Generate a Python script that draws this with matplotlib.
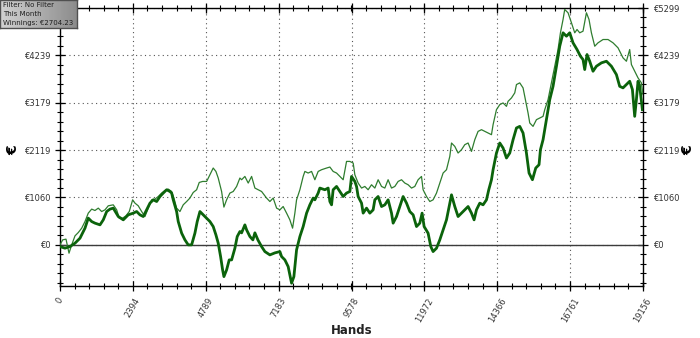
import matplotlib
matplotlib.use('Agg')
import matplotlib.pyplot as plt
from matplotlib.ticker import FixedLocator, AutoMinorLocator
import numpy as np

# Thick line (main winnings curve)
hands_thick = [0, 164, 328, 493, 657, 821, 929, 1041, 1149, 1314, 1422, 1534, 1642, 1750,
               1915, 2079, 2243, 2407, 2519, 2627, 2736, 2847, 2956, 3064, 3176, 3284, 3392,
               3504, 3612, 3668, 3721, 3832, 3885, 3997, 4105, 4213, 4325, 4433, 4509, 4598,
               4706, 4818, 4926, 5034, 5123, 5199, 5277, 5343, 5386, 5474, 5560, 5639, 5747,
               5823, 5911, 5967, 6075, 6131, 6240, 6338, 6404, 6502, 6624, 6732, 6896, 7061,
               7225, 7281, 7389, 7497, 7609, 7685, 7773, 7882, 7990, 8102, 8210, 8318, 8374,
               8483, 8538, 8703, 8811, 8867, 8923, 8975, 9087, 9195, 9304, 9415, 9524, 9579,
               9688, 9744, 9796, 9908, 9961, 10072, 10180, 10289, 10345, 10453, 10565, 10673,
               10781, 10893, 10946, 11057, 11166, 11274, 11386, 11494, 11603, 11714, 11822,
               11898, 11964, 12095, 12184, 12259, 12371, 12479, 12588, 12699, 12808, 12864,
               12972, 13080, 13192, 13300, 13409, 13520, 13606, 13684, 13793, 13901, 14013,
               14088, 14177, 14230, 14341, 14450, 14558, 14670, 14778, 14887, 14998, 15106,
               15215, 15326, 15412, 15523, 15632, 15740, 15786, 15872, 15983, 16092, 16200,
               16312, 16420, 16529, 16640, 16748, 16857, 16988, 17100, 17185, 17241, 17317,
               17405, 17514, 17625, 17790, 17954, 18118, 18282, 18390, 18499, 18611, 18719,
               18808, 18883, 18939, 18992, 19048, 19136]
won_thick = [-38, -74, -38, 38, 150, 374, 598, 522, 486, 448, 560, 746, 800, 822,
             634, 560, 672, 710, 746, 672, 634, 784, 934, 1008, 970, 1082, 1159,
             1233, 1194, 1159, 1008, 746, 522, 262, 112, 0, 0, 262, 522, 746,
             672, 598, 522, 410, 224, 38, -262, -560, -710, -560, -336, -336, -74,
             186, 298, 269, 448, 336, 186, 112, 269, 112, -38, -150, -224, -179,
             -150, -262, -336, -486, -858, -710, -112, 186, 410, 710, 896, 1047, 1008,
             1159, 1271, 1233, 1271, 970, 896, 1233, 1307, 1194, 1082, 1159, 1194, 1531,
             1419, 1307, 1082, 934, 710, 822, 710, 784, 1008, 1082, 858, 896,
             1008, 710, 486, 634, 858, 1082, 934, 746, 672, 410, 486,
             710, 410, 262, -38, -150, -74, 112, 336, 560, 934, 1120,
             858, 634, 710, 784, 858, 710, 560, 784, 934, 896, 1008,
             1233, 1457, 1681, 2055, 2279, 2167, 1943, 2055, 2353, 2615, 2651,
             2503, 2055, 1607, 1457, 1719, 1793, 2129, 2353, 2801, 3249, 3547,
             3996, 4444, 4744, 4668, 4744, 4520, 4370, 4220, 4146, 3922, 4258,
             4108, 3884, 3996, 4072, 4108, 3996, 3810, 3547, 3512, 3586, 3660,
             3474, 2875, 3249, 3660, 3547, 3025]

# Thin line
hands_thin = [0, 89, 197, 296, 384, 493, 601, 713, 821, 929, 1041, 1149, 1258, 1369, 1478,
              1586, 1750, 1862, 1947, 2059, 2167, 2276, 2387, 2463, 2571, 2683, 2791, 2900,
              3011, 3120, 3228, 3340, 3448, 3557, 3668, 3744, 3832, 3941, 4049, 4161, 4269,
              4377, 4489, 4575, 4686, 4818, 4926, 5034, 5123, 5199, 5310, 5386, 5474, 5583,
              5691, 5803, 5911, 5967, 6075, 6184, 6296, 6404, 6512, 6624, 6788, 6896, 7005,
              7117, 7225, 7333, 7445, 7553, 7642, 7717, 7773, 7882, 7990, 8046, 8154, 8266,
              8374, 8483, 8594, 8759, 8867, 8975, 9087, 9195, 9304, 9415, 9524, 9633, 9688,
              9796, 9908, 10016, 10124, 10236, 10345, 10453, 10565, 10673, 10781, 10893,
              11001, 11110, 11222, 11330, 11438, 11550, 11658, 11767, 11878, 11931, 12043,
              12151, 12259, 12371, 12479, 12588, 12699, 12808, 12864, 12972, 13080, 13192,
              13300, 13409, 13520, 13629, 13737, 13849, 13957, 14065, 14177, 14230, 14341,
              14450, 14558, 14670, 14722, 14834, 14942, 14998, 15106, 15215, 15271, 15379,
              15435, 15543, 15655, 15763, 15872, 15928, 16036, 16148, 16256, 16364, 16443,
              16529, 16584, 16693, 16805, 16913, 16988, 17077, 17185, 17297, 17382, 17461,
              17570, 17678, 17843, 18007, 18171, 18335, 18499, 18611, 18719, 18775, 18883,
              18992, 19103, 19156]
won_thin = [0, 112, 128, -186, 0, 202, 276, 374, 522, 710, 800, 769, 822, 746, 784,
            874, 896, 784, 598, 598, 650, 746, 1008, 934, 874, 746, 634, 822,
            1008, 1024, 1082, 1159, 1217, 1248, 1194, 1047, 822, 746, 896, 970, 1047,
            1172, 1233, 1396, 1419, 1419, 1569, 1719, 1643, 1495, 1194, 845, 1008, 1159,
            1194, 1307, 1495, 1457, 1531, 1383, 1531, 1271, 1233, 1194, 1047, 970, 1047,
            822, 784, 858, 710, 560, 374, 710, 1008, 1233, 1531, 1643, 1607, 1643,
            1457, 1643, 1681, 1719, 1741, 1643, 1607, 1531, 1457, 1867, 1867, 1831, 1569,
            1383, 1271, 1307, 1233, 1345, 1271, 1457, 1307, 1271, 1457, 1271,
            1307, 1419, 1457, 1383, 1345, 1271, 1307, 1457, 1531, 1233, 1082,
            970, 1008, 1159, 1383, 1607, 1681, 1979, 2279, 2203, 2055, 2129,
            2241, 2279, 2091, 2353, 2539, 2577, 2539, 2503, 2465, 2689, 3025,
            3137, 3175, 3099, 3211, 3287, 3400, 3586, 3624, 3512, 3323, 2951,
            2727, 2651, 2801, 2839, 2875, 3025, 3249, 3624, 3996, 4370, 4744,
            5042, 5266, 5192, 4968, 4744, 4818, 4744, 4780, 5192, 5042, 4744,
            4444, 4520, 4594, 4594, 4520, 4408, 4184, 4108, 4370, 4034, 3884,
            3736, 3624, 3362]

x_ticks = [0, 2394, 4789, 7183, 9578, 11972, 14366, 16761, 19156]
y_ticks = [0, 1060, 2119, 3179, 4239, 5299]
y_labels = ['€' + str(v) for v in y_ticks]

fig = plt.figure(figsize=(7.0, 3.38), dpi=100)
ax = fig.add_axes([60 / 700, 1 - 286 / 338, 583 / 700, 278 / 338])

ax.axhline(0, color='#3c3c3c', lw=1.0, zorder=2)
ax.plot(hands_thin, won_thin, color='#2f7d2f', lw=0.9, zorder=3)
ax.plot(hands_thick, won_thick, color='#0b630b', lw=2.0, zorder=4)

ax.set_xlim(0, 19156)
ax.set_ylim(-920, 5299)
ax.xaxis.set_major_locator(FixedLocator(x_ticks))
ax.yaxis.set_major_locator(FixedLocator(y_ticks))
ax.xaxis.set_minor_locator(AutoMinorLocator(5))
ax.yaxis.set_minor_locator(AutoMinorLocator(5))
ax.set_xticklabels([str(v) for v in x_ticks])
ax.set_yticklabels(y_labels)

ax.grid(True, which='major', linestyle=(0, (1, 3)), color='#555555', lw=0.8, zorder=1)
ax.tick_params(which='both', direction='inout', top=True, right=True,
               labelright=True, labelsize=6, labelcolor='#333333')
ax.tick_params(which='major', length=7, width=0.9)
ax.tick_params(which='minor', length=4, width=0.8)
ax.tick_params(axis='x', pad=4)
for lab in ax.get_xticklabels():
    lab.set_rotation(60)
    lab.set_ha('center')
for s in ax.spines.values():
    s.set_linewidth(1.0)
# the top-left label sits under the info box in the original
ax.yaxis.get_major_ticks()[-1].label1.set_visible(False)

fig.text(352 / 700, 1 - 330 / 338, 'Hands', fontsize=8.5, fontweight='bold',
         color='#222222', ha='center', va='center')
fig.text(13 / 700, 1 - 150 / 338, '€', fontsize=10, fontweight='bold', rotation=90,
         ha='center', va='center')
fig.text(688 / 700, 1 - 150 / 338, '€', fontsize=10, fontweight='bold', rotation=90,
         ha='center', va='center')

# Info box in the top-left corner
box = fig.add_axes([0, 1 - 28 / 338, 77 / 700, 28 / 338], zorder=10)
grad = np.linspace(0.82, 0.55, 64).reshape(1, -1)
box.imshow(grad, cmap='gray', vmin=0, vmax=1, aspect='auto', extent=[0, 1, 0, 1])
box.set_xlim(0, 1)
box.set_ylim(0, 1)
box.set_xticks([])
box.set_yticks([])
for s in box.spines.values():
    s.set_color('#505050')
    s.set_linewidth(1.0)
info = ['Filter: No Filter', 'This Month', 'Winnings: €2704.23']
for i, t in enumerate(info):
    box.text(0.04, 0.83 - i * 0.33, t, fontsize=5, color='#1e1e1e',
             ha='left', va='center')

fig.savefig('out.png', dpi=100, facecolor='white')
